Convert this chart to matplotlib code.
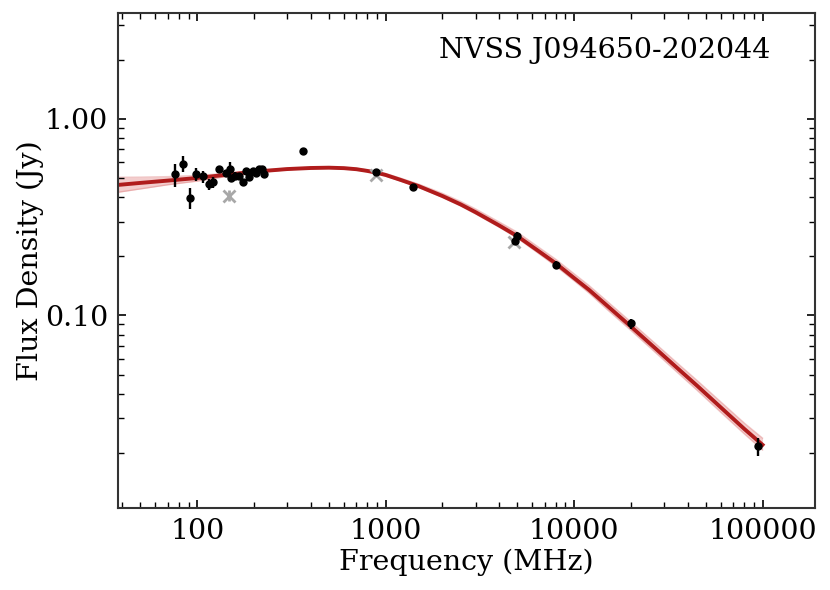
import matplotlib
matplotlib.use("Agg")
import matplotlib.pyplot as plt
from matplotlib.ticker import FixedLocator, FixedFormatter, LogLocator, NullFormatter

plt.rcParams['font.family'] = ['DejaVu Serif']
plt.rcParams['mathtext.fontset'] = 'dejavuserif'

# Measured data (MHz, Jy)
freq = [76, 84, 92, 99, 107, 115, 122, 130, 143, 150, 151, 158, 166, 174, 181,
        189, 197, 204, 212, 220, 227, 365, 887, 1400, 4850, 5000, 8000, 20000, 95000]
flux = [0.522, 0.589, 0.396, 0.522, 0.509, 0.466, 0.475, 0.553, 0.532, 0.556, 0.500,
        0.514, 0.512, 0.475, 0.540, 0.508, 0.540, 0.530, 0.556, 0.557, 0.524, 0.688,
        0.534, 0.452, 0.240, 0.253, 0.181, 0.0911, 0.0216]
flux_err = [0.07, 0.055, 0.047, 0.04, 0.035, 0.03, 0.03, 0.025, 0.02, 0.05, 0.02,
            0.02, 0.02, 0.02, 0.02, 0.02, 0.02, 0.02, 0.02, 0.02, 0.02, 0.02,
            0.015, 0.01, 0.012, 0.012, 0.009, 0.0053, 0.0022]

# Excluded points (grey)
freq_excl = [148, 887, 4800]
flux_excl = [0.407, 0.520, 0.236]
err_excl = [0.027, 0.0, 0.0]

# Fitted model curve
model_freq = [38, 50, 70, 100, 150, 200, 300, 400, 500, 600, 700, 800, 900, 1000,
              1200, 1500, 2000, 2500, 3000, 4000, 5000, 6500, 8000, 10000, 12000,
              15000, 20000, 27000, 35000, 45000, 60000, 80000, 100000]
model_flux = [0.461, 0.472, 0.485, 0.500, 0.522, 0.538, 0.555, 0.562, 0.564, 0.561,
              0.554, 0.543, 0.531, 0.518, 0.489, 0.454, 0.405, 0.367, 0.335, 0.287,
              0.253, 0.212, 0.184, 0.155, 0.135, 0.112, 0.0879, 0.0680, 0.0544,
              0.0439, 0.0341, 0.0265, 0.0220]
band_upper = [0.504, 0.505, 0.508, 0.515, 0.530, 0.545, 0.560, 0.566, 0.568, 0.566,
              0.560, 0.550, 0.539, 0.527, 0.499, 0.465, 0.418, 0.380, 0.348, 0.299,
              0.265, 0.222, 0.193, 0.163, 0.142, 0.118, 0.0928, 0.0720, 0.0577,
              0.0467, 0.0364, 0.0284, 0.0238]
band_lower = [0.423, 0.440, 0.462, 0.482, 0.512, 0.531, 0.550, 0.558, 0.560, 0.556,
              0.549, 0.538, 0.525, 0.511, 0.482, 0.447, 0.398, 0.360, 0.328, 0.281,
              0.247, 0.206, 0.178, 0.150, 0.130, 0.107, 0.0840, 0.0648, 0.0517,
              0.0416, 0.0322, 0.0250, 0.0207]

source_name = "NVSS J094650-202044"
xticks = [100, 1000, 10000, 100000]
xtick_labels = ["100", "1000", "10000", "100000"]
yticks = [0.1, 1.0]
ytick_labels = ["0.10", "1.00"]

fig = plt.figure(figsize=(8.3, 5.9), dpi=100)
ax = fig.add_axes([0.1422, 0.139, 0.8398, 0.839])

ax.fill_between(model_freq, band_lower, band_upper, color='#eaa5a5', alpha=0.55, lw=0, zorder=1)
ax.plot(model_freq, band_upper, color='#d96a6a', alpha=0.35, lw=1.0, zorder=1.5)
ax.plot(model_freq, band_lower, color='#d96a6a', alpha=0.35, lw=1.0, zorder=1.5)
ax.plot(model_freq, model_flux, color='#b01c1c', lw=2.8, zorder=2)

ax.errorbar(freq_excl, flux_excl, yerr=err_excl, fmt='x', color='#a8a8a8',
            ms=8, mew=2, elinewidth=2, capsize=0, zorder=3)
ax.errorbar(freq, flux, yerr=flux_err, fmt='o', color='black', ms=5,
            elinewidth=1.7, capsize=0, zorder=4)

ax.set_xscale('log')
ax.set_yscale('log')
ax.set_xlim(38, 190000)
ax.set_ylim(0.0105, 3.45)

ax.xaxis.set_major_locator(FixedLocator(xticks))
ax.xaxis.set_major_formatter(FixedFormatter(xtick_labels))
ax.xaxis.set_minor_locator(LogLocator(base=10, subs=range(2, 10)))
ax.xaxis.set_minor_formatter(NullFormatter())
ax.yaxis.set_major_locator(FixedLocator(yticks))
ax.yaxis.set_major_formatter(FixedFormatter(ytick_labels))
ax.yaxis.set_minor_locator(LogLocator(base=10, subs=range(2, 10)))
ax.yaxis.set_minor_formatter(NullFormatter())

ax.tick_params(which='both', direction='in', top=True, right=True, labelsize=20.5,
               colors='black')
ax.tick_params(which='major', length=6, width=1.2, pad=7)
ax.tick_params(which='minor', length=4, width=1.0)
for s in ax.spines.values():
    s.set_linewidth(1.5)
    s.set_color('#333333')

ax.set_xlabel("Frequency (MHz)", fontsize=20.5, labelpad=3)
ax.set_ylabel("Flux Density (Jy)", fontsize=20.5, labelpad=1)
ax.text(0.936, 0.925, source_name, transform=ax.transAxes, ha='right', va='center',
        fontsize=20.5)

fig.savefig("out.png", dpi=100)
